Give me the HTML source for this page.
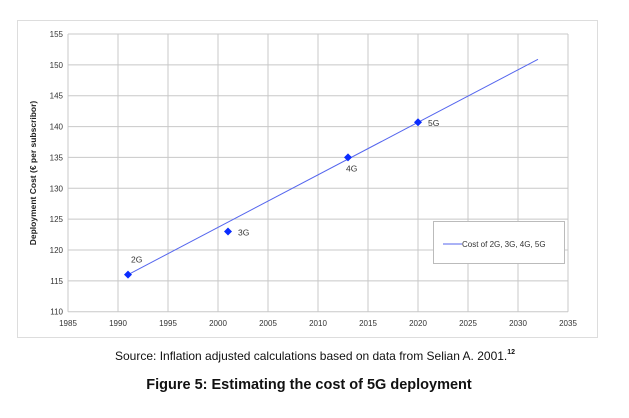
<!DOCTYPE html>
<html><head><meta charset="utf-8"><style>
body{margin:0;background:#fff;width:629px;height:413px;overflow:hidden;font-family:"Liberation Sans",sans-serif}
</style></head><body>
<svg id="chart" width="629" height="413" xmlns="http://www.w3.org/2000/svg">
<rect x="17.5" y="20.5" width="580" height="317" fill="#fff" stroke="#ddd"/>
<g id="grid"></g>
<g id="axes"></g>
<text transform="translate(36,173) rotate(-90)" text-anchor="middle" font-size="8.5" font-weight="bold" fill="#222">Deployment Cost (€ per subscribor)</text>
<g id="series"></g>
<g>
<rect x="433.5" y="221.5" width="131" height="42" fill="#fff" stroke="#bbb"/>
<line x1="443" y1="244" x2="462" y2="244" stroke="#5566ee" stroke-width="1"/>
<text x="462" y="247" font-size="8" fill="#333">Cost of 2G, 3G, 4G, 5G</text>
</g>
<text x="115" y="360" font-size="12" fill="#111">Source: Inflation adjusted calculations based on data from Selian A.  2001.<tspan font-size="7" font-weight="bold" dy="-6">12</tspan></text>
<text x="309" y="389" text-anchor="middle" font-size="14.5" font-weight="bold" fill="#111">Figure 5: Estimating the cost of 5G deployment</text>
</svg>
<script>
const xTicks=[1985,1990,1995,2000,2005,2010,2015,2020,2025,2030,2035];
const yTicks=[110,115,120,125,130,135,140,145,150,155];
const pointYears=[1991,2001,2013,2020];
const pointCosts=[116,123,135,140.7];
const pointLabels=["2G","3G","4G","5G"];
const trendYears=[1991,2032];
const trendCosts=[116,150.9];
const NS="http://www.w3.org/2000/svg";
const X=v=>68+(v-1985)*10;
const Y=v=>311.7-(v-110)*(277.7/45);
function mk(t,a,p){const e=document.createElementNS(NS,t);for(const k in a)e.setAttribute(k,a[k]);p.appendChild(e);return e;}
const grid=document.getElementById('grid'),axes=document.getElementById('axes'),ser=document.getElementById('series');
xTicks.forEach(t=>{const l=mk('line',{x1:X(t),x2:X(t),y1:Y(155),y2:Y(110),stroke:'#c8c8c8','stroke-width':1},grid);


const tx=mk('text',{x:X(t),y:326,'text-anchor':'middle','font-size':8,fill:'#333'},axes);tx.textContent=t;

});
yTicks.forEach(t=>{const l=mk('line',{x1:X(1985),x2:X(2035),y1:Y(t),y2:Y(t),stroke:'#c8c8c8','stroke-width':1},grid);


const tx=mk('text',{x:63,y:Y(t)+3,'text-anchor':'end','font-size':8,fill:'#333'},axes);tx.textContent=t;

});
const tl=mk('line',{x1:X(trendYears[0]),y1:Y(trendCosts[0]),x2:X(trendYears[1]),y2:Y(trendCosts[1]),stroke:'#5566ee','stroke-width':1},ser);


const off=[[3,-12],[10,4],[-2,14],[10,4]];
pointYears.forEach((yr,i)=>{const cx=X(yr),cy=Y(pointCosts[i]);
const p=mk('polygon',{points:`${cx},${cy-4} ${cx+4},${cy} ${cx},${cy+4} ${cx-4},${cy}`,fill:'#0a2cff'},ser);


const tx=mk('text',{x:cx+off[i][0],y:cy+off[i][1],'font-size':8.5,fill:'#333'},ser);tx.textContent=pointLabels[i];

});
</script>
</body></html>
